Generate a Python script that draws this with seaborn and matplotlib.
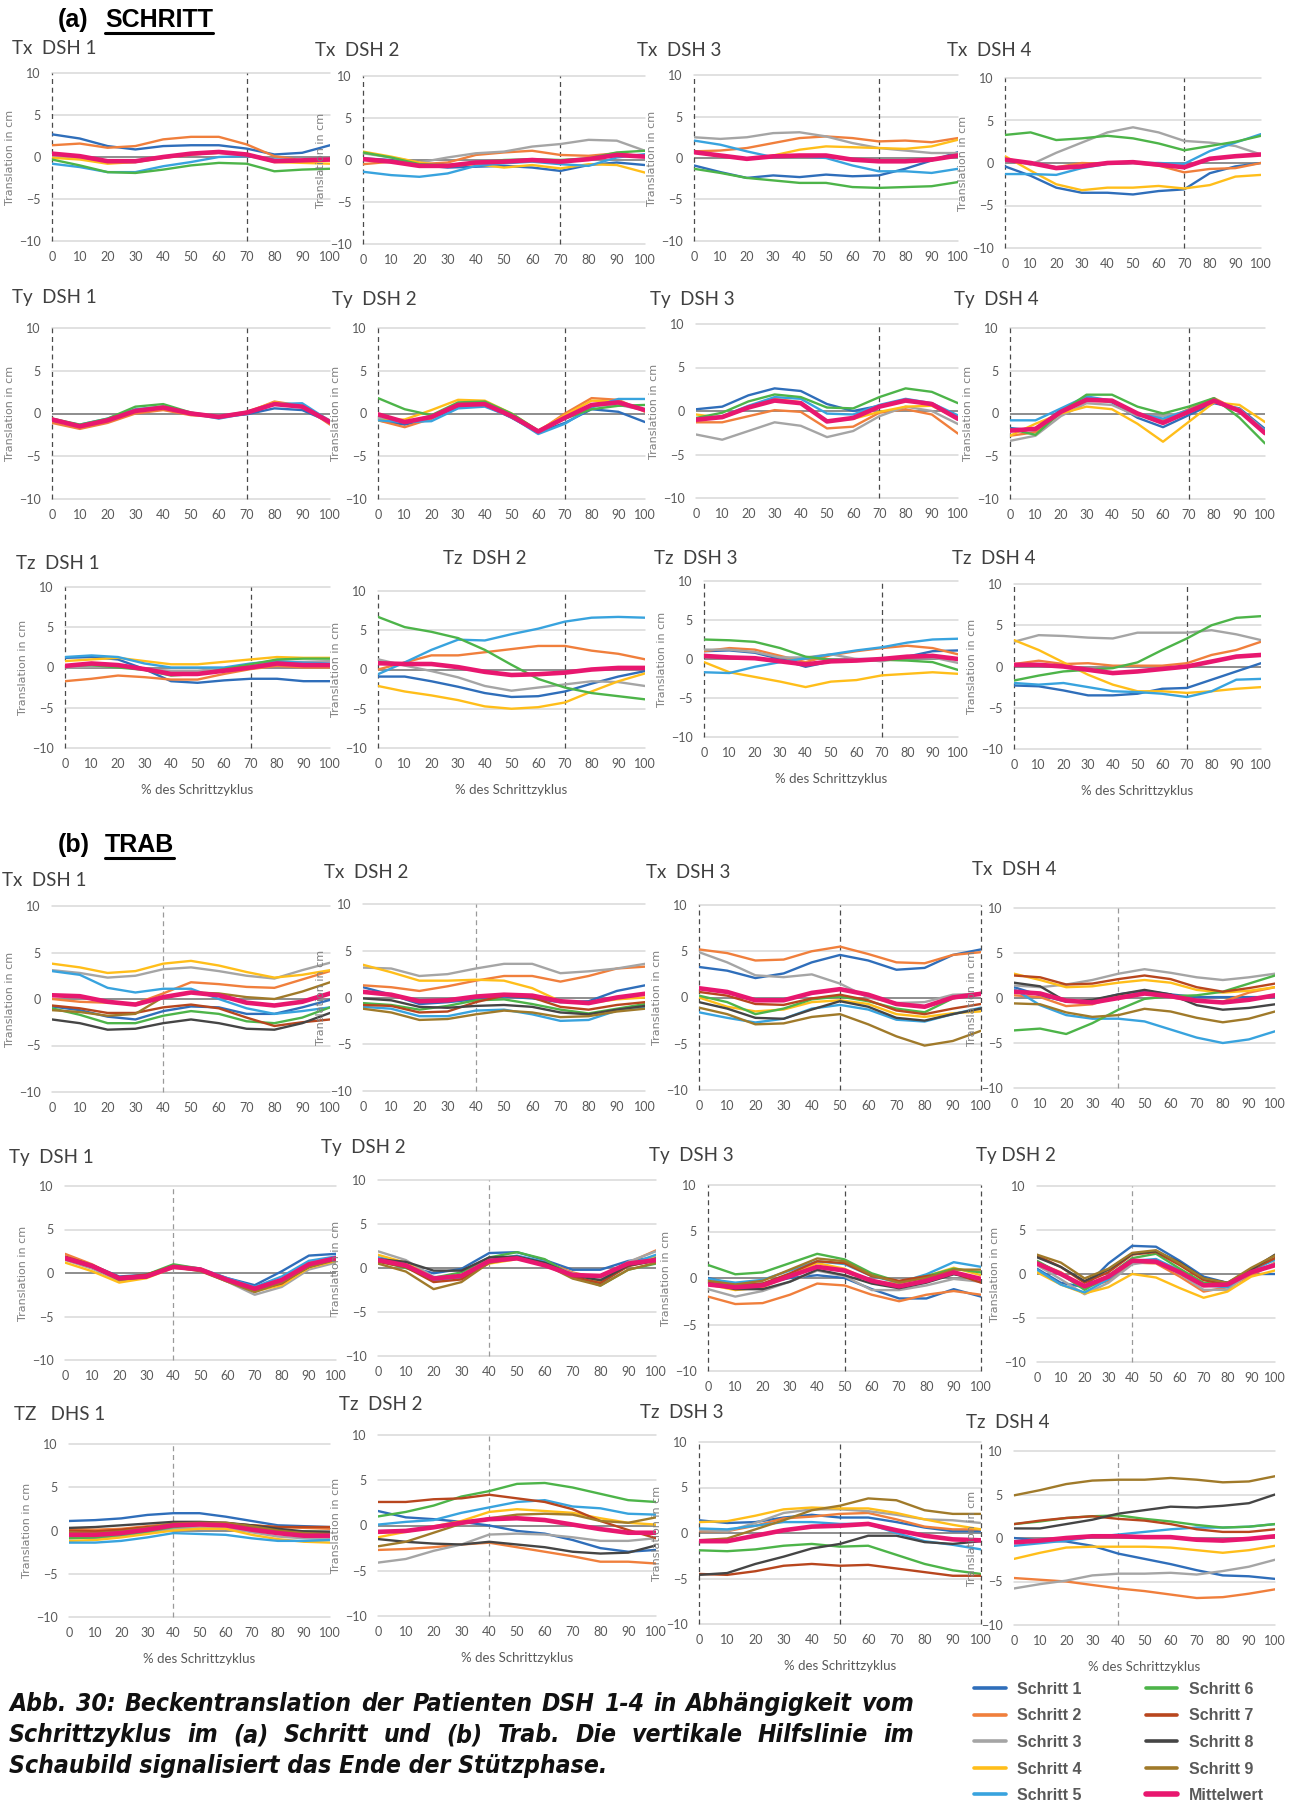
import matplotlib
matplotlib.use("Agg")
import matplotlib.pyplot as plt
import pandas as pd
import seaborn as sns
from matplotlib import font_manager as fm
from matplotlib.lines import Line2D

# ---------------- data (x = 0,10,...,100 % des Schrittzyklus) ----------------
PCT = list(range(0, 101, 10))

a_tx1 = {"Schritt 1": [2.7, 2.2, 1.3, 0.9, 1.3, 1.4, 1.4, 1.0, 0.3, 0.5, 1.4],
         "Schritt 2": [1.4, 1.6, 1.1, 1.3, 2.1, 2.4, 2.4, 1.5, 0.1, -0.4, -0.4],
         "Schritt 3": [0.1, -0.2, -0.7, -0.6, -0.1, 0.3, 0.5, 0.3, -0.3, -0.4, -0.3],
         "Schritt 4": [-0.1, -0.3, -0.8, -0.6, -0.1, 0.3, 0.5, 0.3, -0.6, -0.7, -0.8],
         "Schritt 5": [-0.8, -1.2, -1.8, -1.8, -1.1, -0.6, 0.0, 0.1, -0.3, -0.4, -0.3],
         "Schritt 6": [-0.3, -1.0, -1.8, -1.9, -1.5, -1.0, -0.7, -0.8, -1.7, -1.5, -1.4],
         "Mittelwert": [0.4, 0.1, -0.5, -0.5, 0.0, 0.4, 0.6, 0.3, -0.5, -0.4, -0.3]}
a_tx2 = {"Schritt 1": [0.2, 0.0, -0.6, -0.9, -0.8, -0.7, -0.9, -1.3, -0.6, -0.3, -0.6],
         "Schritt 2": [-0.5, -0.2, -0.5, -0.3, 0.6, 0.9, 1.1, 0.6, 0.5, 0.8, 0.4],
         "Schritt 3": [0.8, 0.3, -0.3, 0.3, 0.8, 1.0, 1.6, 1.9, 2.4, 2.3, 1.1],
         "Schritt 4": [1.0, 0.4, -0.3, -0.7, -0.5, -0.9, -0.6, -1.0, -0.5, -0.6, -1.5],
         "Schritt 5": [-1.4, -1.8, -2.0, -1.6, -0.7, -0.4, -0.2, -0.5, -0.7, 0.3, 0.7],
         "Schritt 6": [0.9, 0.3, -0.5, -0.6, -0.3, 0.0, 0.1, 0.0, 0.2, 0.9, 1.1],
         "Mittelwert": [0.1, -0.2, -0.7, -0.7, -0.3, -0.2, 0.0, -0.2, 0.1, 0.6, 0.4]}
a_tx3 = {"Schritt 1": [-0.9, -1.7, -2.4, -2.1, -2.3, -2.0, -2.2, -2.1, -1.3, -0.3, 0.7],
         "Schritt 2": [0.8, 0.9, 1.2, 1.8, 2.4, 2.6, 2.4, 2.0, 2.1, 1.9, 2.4],
         "Schritt 3": [2.5, 2.3, 2.5, 3.0, 3.1, 2.6, 1.8, 1.2, 0.9, 0.6, 0.6],
         "Schritt 4": [0.7, 0.2, -0.1, 0.3, 1.0, 1.4, 1.3, 1.2, 1.1, 1.4, 2.2],
         "Schritt 5": [2.1, 1.6, 0.8, 0.1, 0.2, 0.0, -0.9, -1.6, -1.6, -1.8, -1.3],
         "Schritt 6": [-1.3, -1.8, -2.4, -2.7, -3.0, -3.0, -3.5, -3.6, -3.5, -3.4, -2.9],
         "Mittelwert": [0.7, 0.3, -0.1, 0.2, 0.3, 0.3, -0.2, -0.4, -0.4, -0.2, 0.3]}
a_tx4 = {"Schritt 1": [-0.4, -1.5, -2.9, -3.5, -3.5, -3.7, -3.3, -3.1, -1.2, -0.4, 0.0],
         "Schritt 2": [0.5, 0.0, -0.5, 0.0, -0.1, 0.0, -0.3, -1.1, -0.7, -0.6, 0.0],
         "Schritt 3": [0.5, -0.2, 1.2, 2.4, 3.6, 4.2, 3.6, 2.6, 2.4, 2.0, 1.0],
         "Schritt 4": [0.8, -0.9, -2.5, -3.2, -2.9, -2.9, -2.7, -3.0, -2.6, -1.6, -1.4],
         "Schritt 5": [-1.3, -1.3, -1.4, -0.6, -0.1, 0.0, 0.0, -0.1, 1.4, 2.4, 3.4],
         "Schritt 6": [3.3, 3.6, 2.7, 2.9, 3.2, 2.9, 2.3, 1.5, 2.0, 2.5, 3.2],
         "Mittelwert": [0.4, 0.0, -0.6, -0.4, 0.0, 0.1, -0.2, -0.5, 0.5, 0.8, 1.0]}

a_ty1 = {"Schritt 1": [-0.9, -1.4, -0.7, 0.4, 0.7, 0.0, -0.4, -0.1, 0.6, 0.4, -1.0],
         "Schritt 2": [-1.1, -1.8, -1.1, 0.0, 0.4, -0.2, -0.4, 0.1, 1.4, 0.9, -1.3],
         "Schritt 3": [-0.6, -1.4, -0.8, 0.3, 0.8, 0.1, -0.3, 0.2, 1.1, 0.9, -0.8],
         "Schritt 4": [-0.6, -1.5, -0.9, 0.2, 0.6, 0.0, -0.4, 0.2, 1.3, 0.9, -1.1],
         "Schritt 5": [-0.8, -1.3, -0.6, 0.5, 0.8, 0.0, -0.6, 0.0, 1.1, 1.2, -0.9],
         "Schritt 6": [-0.6, -1.3, -0.6, 0.8, 1.1, 0.1, -0.4, 0.0, 1.1, 0.8, -1.0],
         "Mittelwert": [-0.7, -1.5, -0.8, 0.3, 0.7, 0.0, -0.4, 0.1, 1.1, 0.8, -1.0]}
a_ty2 = {"Schritt 1": [-0.8, -1.3, -0.6, 0.8, 1.0, -0.5, -2.2, -1.1, 0.5, 0.2, -1.0],
         "Schritt 2": [-0.8, -1.6, -0.6, 1.1, 1.3, -0.2, -2.1, 0.0, 1.8, 1.6, 0.2],
         "Schritt 3": [-0.5, -1.0, -0.3, 1.0, 0.9, -0.4, -2.2, -0.6, 0.9, 1.0, 0.4],
         "Schritt 4": [-0.8, -0.7, 0.4, 1.6, 1.5, 0.0, -2.0, -0.2, 1.5, 1.4, 0.3],
         "Schritt 5": [-0.8, -1.0, -0.9, 0.6, 0.8, -0.4, -2.4, -1.2, 0.7, 1.7, 1.7],
         "Schritt 6": [1.8, 0.5, -0.2, 1.3, 1.4, 0.0, -2.0, -0.6, 0.5, 0.9, 1.0],
         "Mittelwert": [-0.1, -1.0, -0.4, 1.0, 1.1, -0.3, -2.1, -0.5, 1.0, 1.3, 0.4]}
a_ty3 = {"Schritt 1": [0.2, 0.5, 1.8, 2.6, 2.3, 0.8, 0.0, 0.6, 1.3, 0.8, -0.7],
         "Schritt 2": [-1.3, -1.3, -0.6, 0.1, -0.1, -2.0, -1.8, -0.2, 0.2, -0.4, -2.6],
         "Schritt 3": [-2.7, -3.3, -2.3, -1.3, -1.7, -3.0, -2.3, -0.6, 0.5, 0.0, -1.5],
         "Schritt 4": [-0.4, -0.8, 0.4, 1.4, 1.0, -1.2, -0.9, -0.1, 0.5, 0.6, -0.9],
         "Schritt 5": [-0.9, -0.6, 0.6, 1.6, 1.4, -0.3, -0.4, 0.7, 1.4, 0.9, -0.5],
         "Schritt 6": [-0.8, -0.2, 1.1, 1.9, 1.6, 0.4, 0.3, 1.6, 2.6, 2.2, 0.9],
         "Mittelwert": [-1.0, -0.7, 0.4, 1.2, 0.9, -1.2, -0.8, 0.5, 1.2, 0.8, -0.9]}
a_ty4 = {"Schritt 1": [-1.7, -2.0, 0.5, 1.8, 1.3, -0.5, -1.6, -0.2, 1.2, 0.6, -1.8],
         "Schritt 2": [-2.6, -2.2, 0.0, 1.5, 1.4, 0.0, -0.8, 0.5, 1.8, 0.3, -2.3],
         "Schritt 3": [-3.2, -2.6, -0.3, 1.2, 1.0, -0.3, -0.3, 0.2, 1.4, 0.5, -2.0],
         "Schritt 4": [-2.6, -1.2, 0.0, 0.8, 0.5, -1.2, -3.3, -1.0, 1.3, 1.0, -1.0],
         "Schritt 5": [-0.8, -0.8, 0.6, 2.0, 1.5, 0.0, -0.6, 0.4, 1.5, 0.2, -2.0],
         "Schritt 6": [-1.8, -2.5, 0.2, 2.2, 2.2, 0.8, 0.0, 0.8, 1.8, -0.5, -3.5],
         "Mittelwert": [-2.0, -1.8, 0.2, 1.6, 1.5, 0.0, -1.1, 0.2, 1.5, 0.3, -2.3]}

a_tz1 = {"Schritt 1": [1.2, 1.3, 1.0, -0.2, -1.7, -1.9, -1.6, -1.4, -1.4, -1.7, -1.7],
         "Schritt 2": [-1.7, -1.4, -1.0, -1.2, -1.5, -1.5, -0.8, -0.2, 0.2, 0.0, 0.0],
         "Schritt 3": [0.0, 0.1, 0.1, -0.2, -0.4, -0.4, -0.1, 0.3, 0.7, 0.7, 0.8],
         "Schritt 4": [0.8, 1.0, 1.2, 0.8, 0.4, 0.4, 0.7, 1.0, 1.3, 1.2, 1.2],
         "Schritt 5": [1.3, 1.5, 1.3, 0.5, 0.0, 0.0, 0.0, 0.5, 0.8, 0.6, 0.5],
         "Schritt 6": [0.2, 0.3, 0.0, -0.3, -1.0, -0.8, -0.2, 0.4, 1.0, 1.1, 1.1],
         "Mittelwert": [0.2, 0.5, 0.3, -0.2, -0.8, -0.8, -0.4, 0.0, 0.5, 0.3, 0.3]}
a_tz2 = {"Schritt 1": [-0.9, -0.9, -1.5, -2.2, -3.0, -3.5, -3.4, -2.8, -1.8, -0.9, -0.2],
         "Schritt 2": [0.0, 0.9, 1.8, 1.8, 2.2, 2.6, 3.0, 3.0, 2.4, 2.0, 1.3],
         "Schritt 3": [1.3, 0.5, -0.2, -1.0, -2.1, -2.7, -2.3, -1.9, -1.5, -1.6, -2.1],
         "Schritt 4": [-2.1, -2.8, -3.3, -3.9, -4.7, -5.0, -4.8, -4.2, -2.8, -1.5, -0.5],
         "Schritt 5": [-0.6, 0.9, 2.5, 3.8, 3.7, 4.5, 5.2, 6.1, 6.6, 6.7, 6.6],
         "Schritt 6": [6.7, 5.4, 4.8, 4.0, 2.5, 0.6, -1.2, -2.3, -3.0, -3.4, -3.8],
         "Mittelwert": [0.8, 0.7, 0.7, 0.3, -0.3, -0.7, -0.6, -0.4, 0.0, 0.2, 0.2]}
a_tz3 = {"Schritt 1": [1.0, 1.1, 0.8, 0.0, -1.0, -0.3, 0.0, 0.0, 0.3, 1.0, 1.1],
         "Schritt 2": [1.0, 1.4, 1.2, 0.4, -0.4, 0.5, 1.0, 1.4, 1.7, 1.4, 0.6],
         "Schritt 3": [1.2, 1.2, 0.9, 0.2, 0.2, 0.6, 0.0, -0.3, 0.3, 0.2, -0.5],
         "Schritt 4": [-0.4, -1.7, -2.3, -2.9, -3.6, -2.9, -2.7, -2.1, -1.9, -1.7, -1.9],
         "Schritt 5": [-1.7, -1.8, -1.0, -0.4, 0.1, 0.6, 1.1, 1.5, 2.1, 2.5, 2.6],
         "Schritt 6": [2.5, 2.4, 2.2, 1.4, 0.3, -0.1, -0.2, -0.1, -0.2, -0.4, -1.4],
         "Mittelwert": [0.4, 0.2, 0.1, -0.3, -0.7, -0.3, -0.2, 0.0, 0.3, 0.4, 0.0]}
a_tz4 = {"Schritt 1": [-2.3, -2.4, -2.9, -3.5, -3.5, -3.3, -2.7, -2.6, -1.6, -0.6, 0.4],
         "Schritt 2": [0.3, 0.7, 0.3, 0.4, 0.1, 0.1, 0.1, 0.4, 1.4, 2.0, 3.0],
         "Schritt 3": [3.0, 3.8, 3.7, 3.5, 3.4, 4.1, 4.1, 4.1, 4.4, 3.9, 3.2],
         "Schritt 4": [3.2, 2.0, 0.5, -1.0, -2.2, -3.0, -3.0, -3.2, -3.0, -2.7, -2.5],
         "Schritt 5": [-2.0, -2.2, -2.0, -2.5, -3.0, -3.1, -3.3, -3.7, -3.0, -1.6, -1.5],
         "Schritt 6": [-1.7, -1.1, -0.6, -0.4, -0.2, 0.5, 2.0, 3.4, 5.0, 5.9, 6.1],
         "Mittelwert": [0.2, 0.2, 0.0, -0.4, -0.8, -0.6, -0.3, 0.0, 0.6, 1.2, 1.4]}

b_tx1 = {"Schritt 1": [-0.8, -1.2, -1.9, -2.2, -1.3, -0.8, -0.9, -1.6, -1.6, -0.9, -0.1],
         "Schritt 2": [0.0, -0.3, -0.4, -0.5, 0.6, 1.8, 1.6, 1.3, 1.2, 2.1, 3.0],
         "Schritt 3": [3.1, 2.8, 2.3, 2.5, 3.2, 3.4, 3.0, 2.5, 2.2, 3.1, 3.9],
         "Schritt 4": [3.8, 3.4, 2.8, 3.0, 3.8, 4.1, 3.6, 2.9, 2.3, 2.6, 3.1],
         "Schritt 5": [3.0, 2.6, 1.2, 0.7, 1.1, 1.1, 0.0, -1.0, -1.6, -1.3, -0.9],
         "Schritt 6": [-1.0, -1.7, -2.6, -2.6, -1.8, -1.3, -1.6, -2.4, -2.6, -2.0, -0.9],
         "Schritt 7": [-0.7, -1.0, -1.5, -1.5, -0.9, -0.6, -1.0, -2.0, -2.9, -2.5, -2.2],
         "Schritt 8": [-2.2, -2.6, -3.3, -3.2, -2.6, -2.2, -2.6, -3.2, -3.3, -2.6, -1.5],
         "Schritt 9": [-1.2, -1.4, -1.8, -1.6, 0.2, 0.7, 0.6, 0.2, 0.0, 0.8, 1.8],
         "Mittelwert": [0.4, 0.3, -0.3, -0.6, 0.2, 0.7, 0.4, -0.4, -0.7, -0.3, 0.6]}
b_tx2 = {"Schritt 1": [1.1, 0.3, -0.7, -0.5, -0.2, 0.1, -0.1, -0.5, -0.4, 0.7, 1.3],
         "Schritt 2": [1.3, 1.1, 0.7, 1.2, 1.8, 2.3, 2.3, 1.7, 2.3, 3.1, 3.3],
         "Schritt 3": [3.2, 3.1, 2.3, 2.5, 3.1, 3.6, 3.6, 2.6, 2.8, 3.1, 3.6],
         "Schritt 4": [3.5, 2.7, 1.8, 1.8, 1.9, 1.8, 1.0, -0.4, -0.6, -0.2, 0.0],
         "Schritt 5": [-1.0, -1.2, -2.0, -2.0, -1.4, -1.3, -1.8, -2.5, -2.4, -1.4, -1.1],
         "Schritt 6": [-0.6, -0.8, -1.3, -0.9, -0.3, -0.2, -0.7, -1.3, -1.7, -1.2, -0.7],
         "Schritt 7": [-0.8, -0.9, -1.6, -1.5, -0.5, 0.2, 0.0, -1.0, -1.3, -0.8, -0.5],
         "Schritt 8": [-0.1, -0.3, -1.0, -1.1, -0.9, -0.8, -1.0, -1.6, -1.8, -1.3, -0.9],
         "Schritt 9": [-1.2, -1.6, -2.4, -2.3, -1.8, -1.4, -1.6, -2.1, -2.0, -1.5, -1.2],
         "Mittelwert": [0.6, 0.3, -0.4, -0.3, 0.1, 0.3, 0.2, -0.4, -0.6, 0.0, 0.4]}
b_tx3 = {"Schritt 1": [3.3, 2.9, 2.1, 2.6, 3.8, 4.6, 4.0, 3.0, 3.2, 4.6, 5.2],
         "Schritt 2": [5.2, 4.8, 4.0, 4.1, 5.0, 5.5, 4.7, 3.8, 3.7, 4.6, 4.9],
         "Schritt 3": [4.9, 3.8, 2.4, 2.2, 2.5, 1.5, 0.0, -0.6, -0.5, 0.3, 0.4],
         "Schritt 4": [0.0, -1.0, -1.5, -1.3, -0.5, -0.3, -0.7, -1.8, -2.1, -1.7, -1.5],
         "Schritt 5": [-1.6, -2.2, -2.7, -2.3, -1.2, -0.8, -1.3, -2.4, -2.6, -1.8, -1.1],
         "Schritt 6": [0.2, -0.5, -1.8, -1.2, -0.2, 0.1, -0.4, -1.2, -1.6, -0.1, 0.5],
         "Schritt 7": [0.6, 0.2, -0.7, -0.8, -0.1, 0.3, -0.3, -1.4, -1.8, -1.2, -0.7],
         "Schritt 8": [-0.5, -1.2, -2.2, -2.3, -1.3, -0.4, -1.0, -2.2, -2.5, -1.8, -1.2],
         "Schritt 9": [-1.1, -1.8, -2.9, -2.8, -2.1, -1.8, -2.9, -4.2, -5.2, -4.7, -3.6],
         "Mittelwert": [1.0, 0.6, -0.3, -0.3, 0.5, 0.9, 0.3, -0.7, -1.0, 0.0, 0.4]}
b_tx4 = {"Schritt 1": [1.2, 0.3, -0.4, -0.3, 0.4, 0.8, 0.4, 0.1, 0.1, 0.1, 0.1],
         "Schritt 2": [0.3, 0.1, -0.9, -0.7, 0.2, 0.5, 0.1, -0.4, -0.4, 0.6, 1.2],
         "Schritt 3": [1.4, 1.2, 1.5, 2.0, 2.7, 3.2, 2.8, 2.3, 2.0, 2.3, 2.7],
         "Schritt 4": [2.7, 2.0, 1.2, 1.3, 1.7, 2.0, 1.7, 0.9, 0.6, 0.8, 1.2],
         "Schritt 5": [1.0, -0.8, -1.9, -2.3, -2.3, -2.6, -3.5, -4.4, -5.0, -4.6, -3.7],
         "Schritt 6": [-3.6, -3.4, -4.0, -2.8, -1.3, -0.1, 0.2, 0.3, 0.7, 1.6, 2.5],
         "Schritt 7": [2.5, 2.3, 1.5, 1.6, 2.1, 2.5, 2.1, 1.2, 0.7, 1.1, 1.6],
         "Schritt 8": [1.7, 1.3, -0.4, -0.2, 0.4, 0.9, 0.4, -0.8, -1.3, -1.1, -0.7],
         "Schritt 9": [-0.6, -0.7, -1.6, -2.1, -1.9, -1.2, -1.5, -2.2, -2.7, -2.3, -1.5],
         "Mittelwert": [0.7, 0.5, -0.3, -0.5, 0.0, 0.5, 0.2, -0.3, -0.5, -0.2, 0.3]}

b_ty1 = {"Schritt 1": [1.8, 0.9, -0.4, -0.2, 0.8, 0.4, -0.6, -1.4, 0.2, 2.0, 2.2],
         "Schritt 2": [2.2, 1.0, -0.6, -0.3, 0.8, 0.3, -1.0, -2.0, -0.7, 1.2, 1.7],
         "Schritt 3": [1.5, 0.5, -0.9, -0.5, 0.7, 0.3, -1.0, -2.5, -1.6, 0.4, 1.2],
         "Schritt 4": [1.2, 0.2, -1.1, -0.6, 0.6, 0.3, -0.9, -2.1, -1.4, 0.6, 1.4],
         "Schritt 5": [1.8, 0.9, -0.6, -0.3, 0.9, 0.5, -0.6, -1.6, -0.4, 1.4, 1.9],
         "Schritt 6": [1.7, 0.8, -0.7, -0.2, 1.0, 0.5, -0.8, -1.9, -1.0, 0.9, 1.6],
         "Schritt 7": [1.9, 0.9, -0.5, -0.2, 0.8, 0.4, -0.9, -2.0, -1.2, 0.8, 1.6],
         "Schritt 8": [1.7, 0.7, -0.7, -0.5, 0.7, 0.3, -0.8, -1.8, -1.0, 0.7, 1.6],
         "Schritt 9": [1.6, 0.8, -0.8, -0.4, 0.7, 0.2, -1.0, -2.2, -1.1, 0.7, 1.5],
         "Mittelwert": [1.7, 0.8, -0.6, -0.4, 0.7, 0.4, -0.8, -1.8, -0.8, 1.0, 1.7]}
b_ty2 = {"Schritt 1": [0.9, 0.2, -0.6, -0.1, 1.7, 1.8, 0.9, -0.2, -0.2, 0.8, 1.2],
         "Schritt 2": [1.2, 0.5, -1.3, -1.0, 0.7, 1.3, 0.7, -0.5, -1.2, 0.6, 2.0],
         "Schritt 3": [1.9, 0.9, -1.0, -1.2, 0.6, 1.1, 0.6, -0.6, -1.3, 0.7, 1.9],
         "Schritt 4": [1.5, 0.6, -1.2, -1.0, 0.5, 1.0, 0.4, -0.7, -1.5, 0.3, 1.4],
         "Schritt 5": [1.2, 0.4, -1.4, -1.1, 0.9, 1.4, 0.7, -1.1, -1.8, 0.4, 1.5],
         "Schritt 6": [0.8, 0.0, -1.1, -0.5, 1.2, 1.8, 1.0, -0.9, -2.0, -0.2, 0.5],
         "Schritt 7": [0.7, 0.1, -1.6, -1.3, 0.6, 1.2, 0.4, -1.0, -1.7, 0.2, 0.9],
         "Schritt 8": [1.0, 0.7, -0.3, -0.3, 1.2, 1.3, 0.6, -0.8, -1.4, 0.3, 0.8],
         "Schritt 9": [0.5, -0.4, -2.4, -1.6, 0.6, 1.1, 0.4, -1.2, -2.0, -0.2, 0.6],
         "Mittelwert": [0.9, 0.3, -1.2, -0.9, 0.8, 1.1, 0.3, -0.8, -0.9, 0.5, 0.9]}
b_ty3 = {"Schritt 1": [0.0, -0.7, -0.6, 0.0, 0.3, 0.0, -1.2, -2.2, -2.2, -1.2, -2.0],
         "Schritt 2": [-2.0, -2.8, -2.7, -1.8, -0.6, -0.8, -1.8, -2.5, -1.8, -1.4, -1.8],
         "Schritt 3": [-1.2, -2.0, -1.4, -0.4, 0.8, 0.2, -1.3, -1.3, -0.8, -0.1, -0.4],
         "Schritt 4": [-0.7, -1.3, -1.0, 0.3, 1.6, 1.0, -0.4, -0.6, 0.2, 1.1, 0.3],
         "Schritt 5": [-0.1, -0.5, -0.2, 0.8, 1.8, 1.5, 0.2, -0.5, 0.4, 1.7, 1.2],
         "Schritt 6": [1.4, 0.4, 0.6, 1.6, 2.6, 2.0, 0.5, -0.4, 0.2, 1.0, 0.6],
         "Schritt 7": [-0.5, -0.8, -0.6, 0.5, 1.8, 1.6, 0.2, -0.3, 0.2, 0.5, -0.5],
         "Schritt 8": [-0.6, -1.2, -1.2, -0.4, 0.9, 0.3, -0.6, -1.1, -0.5, 0.4, -0.1],
         "Schritt 9": [-0.3, -0.7, -0.3, 0.9, 2.1, 1.8, 0.3, -0.5, 0.0, 0.9, 0.9],
         "Mittelwert": [-0.7, -1.0, -0.8, 0.2, 1.2, 0.8, -0.3, -0.9, -0.3, 0.6, -0.1]}
b_ty4 = {"Schritt 1": [0.6, -1.0, -1.5, 1.2, 3.2, 3.1, 1.5, -0.3, -1.0, 0.0, 0.0],
         "Schritt 2": [1.3, 0.2, -1.5, -0.8, 1.3, 1.2, -0.3, -2.0, -1.5, -0.2, 1.3],
         "Schritt 3": [1.0, -0.6, -2.3, -1.0, 1.1, 1.5, 0.0, -1.8, -1.8, 0.2, 1.2],
         "Schritt 4": [0.2, -1.2, -2.2, -1.5, 0.0, -0.4, -1.6, -2.7, -2.0, -0.3, 0.4],
         "Schritt 5": [0.5, -1.2, -2.1, -0.6, 1.5, 1.7, 0.4, -1.3, -1.5, 0.4, 1.6],
         "Schritt 6": [1.5, 0.0, -1.8, -0.2, 1.8, 2.3, 0.6, -1.0, -1.2, 0.6, 1.8],
         "Schritt 7": [2.1, 0.8, -1.0, 0.2, 2.2, 2.5, 1.0, -0.7, -1.2, 0.5, 1.8],
         "Schritt 8": [1.9, 0.8, -0.8, 0.5, 2.3, 2.6, 1.3, -0.5, -1.0, 0.5, 2.2],
         "Schritt 9": [2.2, 1.3, -0.5, 0.6, 2.4, 2.7, 1.2, -0.5, -1.0, 0.7, 2.1],
         "Mittelwert": [1.2, 0.0, -1.4, -0.3, 1.5, 1.4, 0.2, -1.3, -1.2, 0.2, 1.0]}

b_tz1 = {"Schritt 1": [1.1, 1.2, 1.4, 1.8, 2.0, 2.0, 1.6, 1.1, 0.6, 0.5, 0.4],
         "Schritt 2": [0.2, 0.1, 0.2, 0.5, 0.8, 0.8, 0.8, 0.6, 0.4, 0.3, 0.2],
         "Schritt 3": [-0.8, -0.9, -0.6, -0.3, 0.2, 0.3, 0.3, -0.2, -0.7, -0.9, -1.0],
         "Schritt 4": [-1.2, -1.1, -0.8, -0.4, 0.0, 0.2, 0.2, -0.5, -1.0, -1.3, -1.4],
         "Schritt 5": [-1.4, -1.4, -1.2, -0.8, -0.3, -0.4, -0.5, -0.9, -1.2, -1.2, -1.1],
         "Schritt 6": [-0.9, -0.8, -0.5, -0.1, 0.4, 0.6, 0.7, 0.4, 0.0, -0.1, -0.2],
         "Schritt 7": [0.0, -0.1, 0.1, 0.4, 0.6, 0.8, 0.8, 0.6, 0.4, 0.4, 0.4],
         "Schritt 8": [0.3, 0.4, 0.6, 0.8, 1.0, 1.0, 0.9, 0.6, 0.2, -0.1, -0.2],
         "Schritt 9": [-0.2, -0.3, -0.1, 0.3, 0.8, 0.9, 0.9, 0.5, 0.0, -0.3, -0.4],
         "Mittelwert": [-0.5, -0.5, -0.3, 0.1, 0.6, 0.7, 0.6, 0.1, -0.3, -0.6, -0.6]}
b_tz2 = {"Schritt 1": [1.6, 0.9, 0.7, 0.4, 0.0, -0.6, -0.9, -1.6, -2.5, -2.9, -2.7],
         "Schritt 2": [-2.7, -2.6, -2.4, -2.1, -1.9, -2.4, -2.9, -3.4, -4.0, -4.0, -4.2],
         "Schritt 3": [-4.1, -3.7, -2.8, -2.1, -1.0, -0.9, -1.0, -1.3, -1.7, -1.7, -1.4],
         "Schritt 4": [-1.3, -0.7, -0.1, 0.5, 1.5, 1.8, 1.6, 1.4, 0.8, 0.3, 0.1],
         "Schritt 5": [0.1, 0.4, 0.6, 1.4, 2.0, 2.6, 2.8, 2.1, 1.9, 1.3, 1.2],
         "Schritt 6": [1.0, 1.5, 2.2, 3.2, 3.8, 4.6, 4.7, 4.2, 3.5, 2.8, 2.6],
         "Schritt 7": [2.6, 2.6, 2.9, 3.0, 3.4, 3.0, 2.6, 1.8, 0.5, -0.5, -1.4],
         "Schritt 8": [-1.5, -1.8, -2.0, -2.1, -1.8, -2.1, -2.4, -2.9, -3.1, -3.0, -2.2],
         "Schritt 9": [-2.3, -1.8, -0.8, 0.2, 0.8, 1.2, 1.3, 1.2, 0.5, 0.3, 0.9],
         "Mittelwert": [-0.7, -0.6, -0.2, 0.3, 0.7, 0.8, 0.6, 0.1, -0.4, -0.8, -0.8]}
b_tz3 = {"Schritt 1": [1.4, 1.1, 1.2, 1.7, 2.0, 1.7, 1.7, 1.2, 0.6, 0.2, 0.2],
         "Schritt 2": [0.2, 0.2, 0.8, 1.6, 1.8, 2.1, 2.2, 1.5, 0.7, 0.4, 0.4],
         "Schritt 3": [0.3, 0.2, 1.1, 2.2, 2.6, 2.6, 2.4, 2.0, 1.5, 1.4, 1.1],
         "Schritt 4": [1.2, 1.3, 1.9, 2.6, 2.8, 2.7, 2.7, 2.2, 1.5, 0.9, 0.4],
         "Schritt 5": [0.5, 0.4, 0.8, 1.2, 1.2, 1.0, 1.0, 0.0, -0.9, -1.3, -1.8],
         "Schritt 6": [-1.9, -2.0, -1.8, -1.4, -1.2, -1.5, -1.4, -2.4, -3.4, -4.1, -4.5],
         "Schritt 7": [-4.5, -4.6, -4.2, -3.6, -3.4, -3.6, -3.5, -3.9, -4.3, -4.7, -4.7],
         "Schritt 8": [-4.6, -4.4, -3.4, -2.6, -1.7, -1.2, -0.3, -0.3, -1.0, -1.2, -0.9],
         "Schritt 9": [-0.8, -0.6, 0.4, 1.4, 2.5, 3.0, 3.8, 3.6, 2.5, 2.1, 2.1],
         "Mittelwert": [-0.9, -0.9, -0.3, 0.3, 0.7, 0.8, 1.0, 0.3, -0.3, -0.7, -0.8]}
b_tz4 = {"Schritt 1": [0.0, -0.3, -0.4, -0.9, -1.8, -2.4, -3.0, -3.7, -4.3, -4.4, -4.7],
         "Schritt 2": [-4.6, -4.8, -5.0, -5.4, -5.8, -6.1, -6.5, -6.9, -6.8, -6.4, -5.9],
         "Schritt 3": [-5.8, -5.3, -4.9, -4.3, -4.1, -4.1, -4.0, -4.2, -3.8, -3.3, -2.5],
         "Schritt 4": [-2.4, -1.7, -1.1, -1.0, -1.0, -1.0, -1.1, -1.4, -1.7, -1.4, -0.9],
         "Schritt 5": [-0.9, -0.6, -0.3, 0.1, 0.4, 0.7, 1.0, 1.2, 1.2, 1.3, 1.6],
         "Schritt 6": [1.6, 1.9, 2.3, 2.5, 2.6, 2.2, 1.9, 1.5, 1.2, 1.3, 1.6],
         "Schritt 7": [1.6, 2.0, 2.3, 2.5, 2.2, 2.0, 1.6, 1.0, 0.7, 0.7, 1.0],
         "Schritt 8": [1.1, 1.1, 1.6, 2.1, 2.8, 3.2, 3.6, 3.5, 3.7, 4.0, 5.0],
         "Schritt 9": [4.9, 5.5, 6.2, 6.6, 6.7, 6.7, 6.9, 6.7, 6.4, 6.5, 7.1],
         "Mittelwert": [-0.5, -0.3, 0.0, 0.2, 0.2, 0.1, 0.1, -0.2, -0.3, -0.1, 0.2]}

SERIES = ["Schritt 1", "Schritt 2", "Schritt 3", "Schritt 4", "Schritt 5",
          "Schritt 6", "Schritt 7", "Schritt 8", "Schritt 9", "Mittelwert"]
COLORS = ["#2F6EBA", "#F07F3C", "#A5A5A5", "#FFBE1A", "#38A3DE",
          "#4DB449", "#B8461E", "#454545", "#A07A2A", "#E8176F"]
PALETTE = dict(zip(SERIES, COLORS))

TITLES_A = ["Tx  DSH 1", "Tx  DSH 2", "Tx  DSH 3", "Tx  DSH 4",
            "Ty  DSH 1", "Ty  DSH 2", "Ty  DSH 3", "Ty  DSH 4",
            "Tz  DSH 1", "Tz  DSH 2", "Tz  DSH 3", "Tz  DSH 4"]
TITLES_B = ["Tx  DSH 1", "Tx  DSH 2", "Tx  DSH 3", "Tx  DSH 4",
            "Ty  DSH 1", "Ty  DSH 2", "Ty  DSH 3", "Ty DSH 2",
            "TZ   DHS 1", "Tz  DSH 2", "Tz  DSH 3", "Tz  DSH 4"]
STANCE_A = [70] * 12
STANCE_B = [40, 40, 50, 40] * 3
YTICKS = [-10, -5, 0, 5, 10]
XLABEL = "% des Schrittzyklus"
YLABEL = "Translation in cm"

# ---------------- layout (pixels) ----------------
W, H = 1302, 1814
BOXES_A = [(52, 330, 73, 241), (363, 645, 76, 244), (694, 958, 75, 241), (1005, 1261, 78, 248),
           (52, 330, 328, 499), (378, 645, 328, 499), (696, 958, 324, 498), (1010, 1265, 328, 499),
           (65, 330, 587, 748), (378, 645, 591, 748), (704, 958, 581, 737), (1014, 1261, 584, 749)]
TPOS_A = [(12, 49), (315, 51), (637, 51), (947, 51),
          (12, 297), (332, 299), (650, 299), (954, 299),
          (16, 564), (443, 559), (654, 559), (952, 559)]
BOXES_B = [(52, 330, 906, 1092), (363, 645, 904, 1091), (699, 981, 905, 1090), (1014, 1275, 908, 1088),
           (65, 336, 1186, 1360), (378, 656, 1180, 1356), (708, 981, 1185, 1371), (1037, 1275, 1186, 1362),
           (69, 330, 1444, 1617), (378, 656, 1435, 1616), (699, 981, 1442, 1624), (1014, 1275, 1451, 1625)]
TPOS_B = [(2, 881), (324, 873), (646, 873), (972, 869),
          (9, 1157), (321, 1148), (649, 1156), (976, 1156),
          (14, 1415), (339, 1404), (640, 1413), (966, 1423)]

sns.set_theme(style="white")
names = {f.name for f in fm.fontManager.ttflist}
UI = "Lato" if "Lato" in names else "DejaVu Sans"
plt.rcParams["font.family"] = [UI, "DejaVu Sans"]

# narrow bold italic font for the caption (Arial Narrow look) if one exists
cond = [f for f in fm.fontManager.ttflist
        if ("Narrow" in f.name or "Condensed" in f.name
            or (f.name == "DejaVu Sans" and "condensed" in str(f.stretch)))]
if any(f.name == "Liberation Sans Narrow" for f in cond):
    CFONT = dict(family=["Liberation Sans Narrow"], weight="bold", style="italic")
elif any(f.name == "DejaVu Sans" for f in cond):
    CFONT = dict(family=["DejaVu Sans"], stretch="condensed", weight="bold", style="italic")
else:
    CFONT = dict(family=["Liberation Sans", "DejaVu Sans"], weight="bold", style="italic")

fig = plt.figure(figsize=(W / 100, H / 100), dpi=100)
fig.patch.set_facecolor("white")


def draw_panel(data, box, title, tpos, stance, section, idx):
    x0, x1, yt, yb = box
    ax = fig.add_axes([x0 / W, 1 - yb / H, (x1 - x0) / W, (yb - yt) / H])
    ax.set_facecolor("none")
    rows = []
    for name, vals in data.items():
        for p, v in zip(PCT, vals):
            rows.append({"pct": p, "val": v, "serie": name})
    df = pd.DataFrame(rows)
    steps = [s for s in SERIES if s in data and s != "Mittelwert"]
    sns.lineplot(data=df[df.serie != "Mittelwert"], x="pct", y="val", hue="serie",
                 hue_order=steps, palette=PALETTE, estimator=None, legend=False,
                 linewidth=1.7, ax=ax, zorder=3)
    sns.lineplot(data=df[df.serie == "Mittelwert"], x="pct", y="val", color=PALETTE["Mittelwert"],
                 estimator=None, legend=False, linewidth=3.3, ax=ax, zorder=4)
    ax.set_xlim(0, 100)
    ax.set_ylim(-10, 10)
    for s in ax.spines.values():
        s.set_visible(False)
    for y in (-10, -5, 5, 10):
        ax.axhline(y, color="#d9d9d9", lw=1.1, zorder=0, clip_on=False)
    ax.axhline(0, color="#7a7a7a", lw=1.2, zorder=1)
    dark = section == "a" or stance == 50
    dcol = "#4a4a4a" if dark else "#9a9a9a"
    ax.axvline(stance, color=dcol, lw=0.9, ls=(0, (4, 3)), zorder=1, clip_on=False)
    if section == "a" and idx != 6:
        ax.axvline(0, color="#4a4a4a", lw=0.9, ls=(0, (4, 3)), zorder=1, clip_on=False)
    if section == "b" and stance == 50:
        ax.axvline(0, color="#4a4a4a", lw=0.9, ls=(0, (4, 3)), zorder=1, clip_on=False)
        ax.axvline(100, color="#4a4a4a", lw=0.9, ls=(0, (4, 3)), zorder=1, clip_on=False)
    ax.set_xticks(PCT)
    ax.set_yticks(YTICKS)
    ax.tick_params(axis="x", length=0, labelsize=9, labelcolor="#595959", pad=7)
    ax.tick_params(axis="y", length=0, labelsize=9, labelcolor="#595959", pad=8)
    ax.set_ylabel(YLABEL, fontsize=8, color="#7f7f7f", family=["DejaVu Sans"], labelpad=3)
    if idx >= 8:
        ax.set_xlabel(XLABEL, fontsize=9.5, color="#595959", labelpad=10)
    else:
        ax.set_xlabel("")
    fig.text(tpos[0] / W, 1 - tpos[1] / H, title, ha="left", va="center",
             fontsize=13.5, color="#404040")
    return ax


panels_a = [a_tx1, a_tx2, a_tx3, a_tx4, a_ty1, a_ty2, a_ty3, a_ty4, a_tz1, a_tz2, a_tz3, a_tz4]
panels_b = [b_tx1, b_tx2, b_tx3, b_tx4, b_ty1, b_ty2, b_ty3, b_ty4, b_tz1, b_tz2, b_tz3, b_tz4]
for i, d in enumerate(panels_a):
    draw_panel(d, BOXES_A[i], TITLES_A[i], TPOS_A[i], STANCE_A[i], "a", i)
for i, d in enumerate(panels_b):
    draw_panel(d, BOXES_B[i], TITLES_B[i], TPOS_B[i], STANCE_B[i], "b", i)

# ---------------- section headers ----------------
renderer = fig.canvas.get_renderer()
HFONT = ["Liberation Sans", "DejaVu Sans"]
for lab, word, y in (("(a)", "SCHRITT", 20), ("(b)", "TRAB", 845)):
    fig.text(58 / W, 1 - y / H, lab, ha="left", va="center", fontsize=18, weight="bold",
             family=HFONT, color="black")
    t = fig.text(105 / W, 1 - y / H, word, ha="left", va="center", fontsize=18, weight="bold",
                 family=HFONT, color="black")
    bb = t.get_window_extent(renderer)
    yl = (bb.y0 - 1) / H
    fig.add_artist(Line2D([bb.x0 / W, bb.x1 / W], [yl, yl], color="black", lw=2.2,
                          transform=fig.transFigure))

# ---------------- caption (justified lines) ----------------
CAPTION = ["Abb. 30: Beckentranslation der Patienten DSH 1-4 in Abhängigkeit vom",
           "Schrittzyklus im (a) Schritt und (b) Trab. Die vertikale Hilfslinie im",
           "Schaubild signalisiert das Ende der Stützphase."]
cap_left, cap_right = 9, 914
size = 20.0
probe = fig.text(0, 0, CAPTION[0], fontsize=size, **CFONT)
wnat = probe.get_window_extent(renderer).width
probe.remove()
size = size * min(1.0, 0.985 * (cap_right - cap_left) / wnat)
for li, line in enumerate(CAPTION):
    y = 1 - (1704 + 31 * li) / H
    if li == len(CAPTION) - 1:
        fig.text(cap_left / W, y, line, fontsize=size, ha="left", va="center",
                 color="#111111", **CFONT)
        continue
    words = line.split(" ")
    widths = []
    for w_ in words:
        t = fig.text(0, 0, w_, fontsize=size, **CFONT)
        widths.append(t.get_window_extent(renderer).width)
        t.remove()
    gap = ((cap_right - cap_left) - sum(widths)) / (len(words) - 1)
    xx = cap_left
    for w_, ww in zip(words, widths):
        fig.text(xx / W, y, w_, fontsize=size, ha="left", va="center", color="#111111", **CFONT)
        xx += ww + gap

# ---------------- legend ----------------
handles = [Line2D([], [], color=PALETTE[s], lw=4.0 if s == "Mittelwert" else 2.6) for s in SERIES]
fig.legend(handles, SERIES, ncol=2, loc="upper left", bbox_to_anchor=(974 / W, 1 - 1682 / H),
           frameon=False, handlelength=2.0, handletextpad=0.7, columnspacing=4.0,
           labelspacing=0.72, borderaxespad=0, borderpad=0,
           prop={"family": ["Liberation Sans", "DejaVu Sans"], "weight": "bold", "size": 11.5},
           labelcolor="#595959")

fig.savefig("out.png", dpi=100, facecolor="white")
